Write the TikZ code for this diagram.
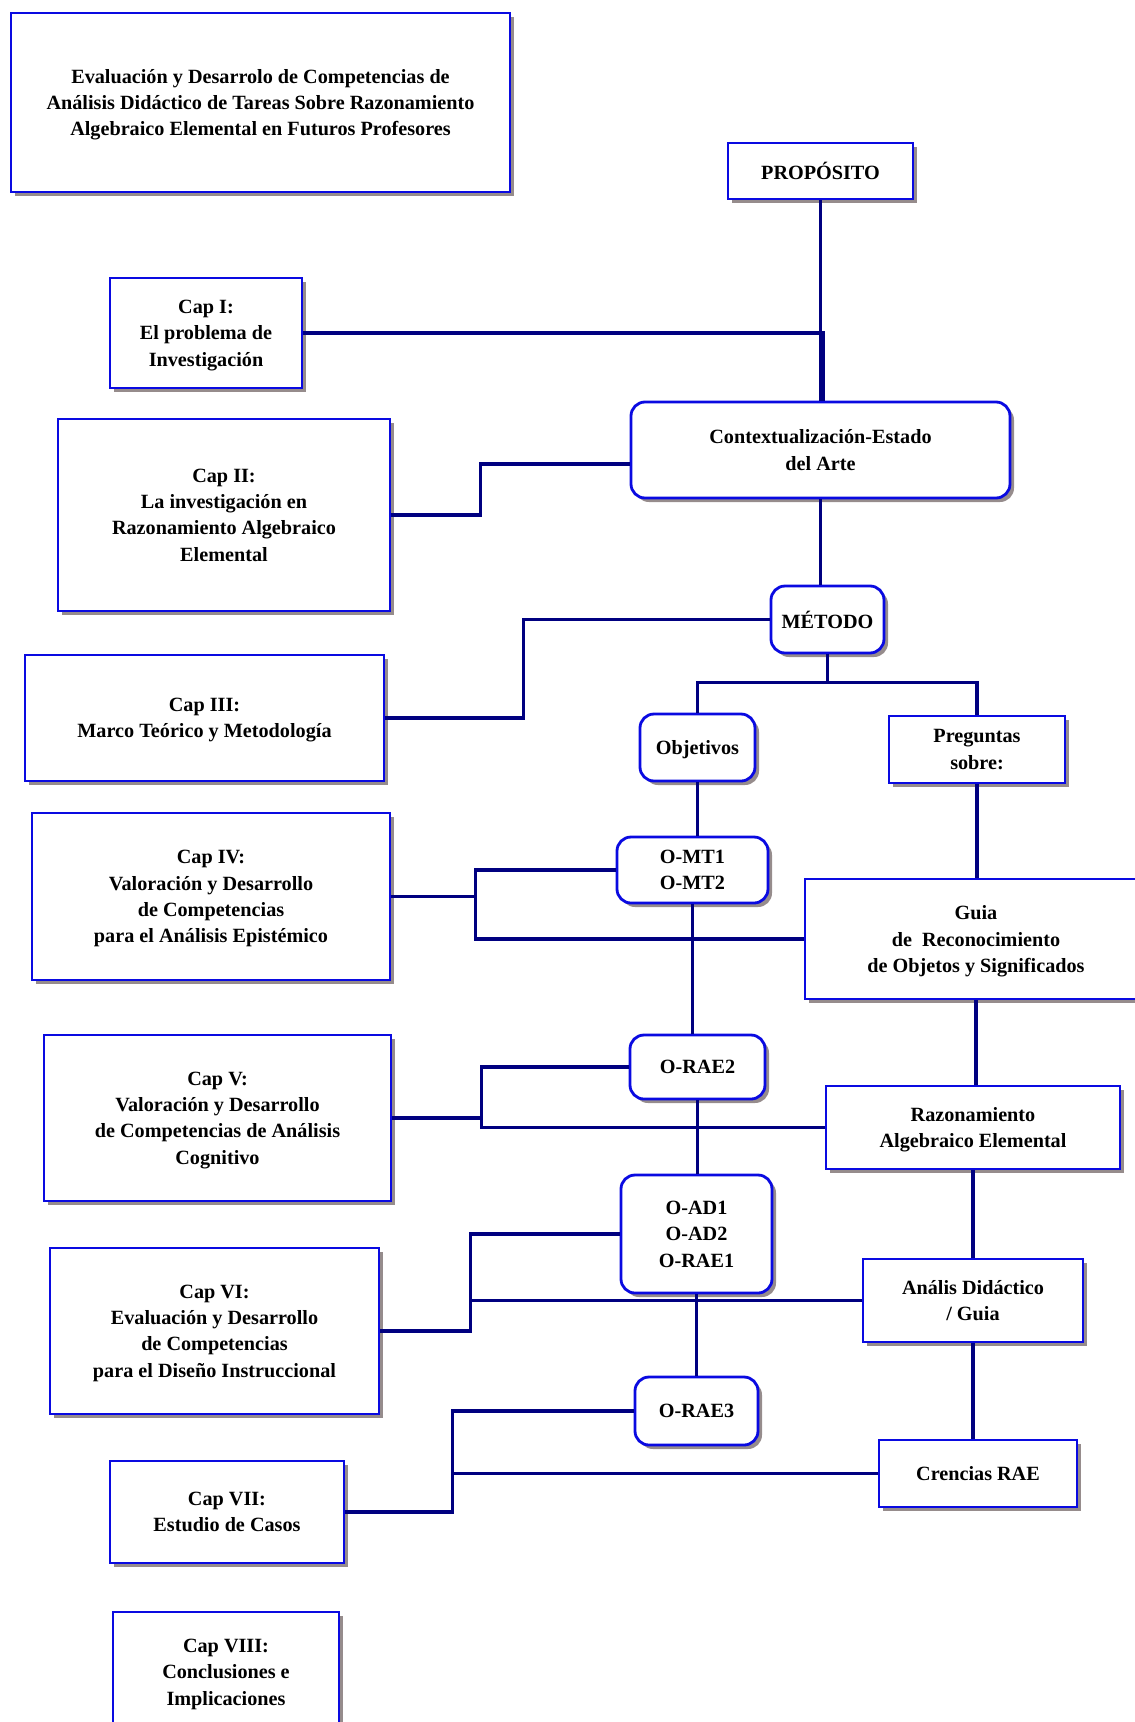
\documentclass[tikz,border=0pt]{standalone}
\usepackage{fontspec}
\setmainfont{Liberation Serif}
\usetikzlibrary{calc,shadows}
\definecolor{boxblue}{RGB}{10,10,225}
\definecolor{linenavy}{RGB}{0,0,128}
\definecolor{shadowgray}{RGB}{150,140,140}
\newlength\pxu
\setlength\pxu{0.02cm}

\begin{document}
\begin{tikzpicture}[x=0.02cm, y=-0.02cm,
    box/.style={draw=boxblue, line width=1.6pt, fill=white, align=center, inner sep=0pt,
        font=\fontsize{11.5}{15}\selectfont\bfseries, text depth=-2pt,
        drop shadow={shadow xshift=4\pxu, shadow yshift=-4\pxu, fill=shadowgray, opacity=1}},
    rbox/.style={box, rounded corners=14\pxu},
    sz/.style 2 args={minimum width=#1\pxu, minimum height=#2\pxu},
    link/.style={draw=linenavy, line width=2pt}]
    \useasboundingbox (0,0) rectangle (1134,1722);

    \node [box, sz={499}{179}] (title) at (260.5,102.5) {Evaluación y Desarrolo de Competencias de\\Análisis Didáctico de Tareas Sobre Razonamiento\\Algebraico Elemental en Futuros Profesores};
    \node [box, sz={185}{56}, text depth=0pt] (prop) at (820.5,171) {PROPÓSITO};
    \node [box, sz={192}{110}] (cap1) at (206,333) {Cap I:\\El problema de\\Investigación};
    \node [rbox, sz={379}{96}] (ctx) at (820.5,450) {Contextualización-Estado\\del Arte};
    \node [box, sz={332}{192}] (cap2) at (224,515) {Cap II:\\La investigación en\\Razonamiento Algebraico\\Elemental};
    \node [rbox, sz={113}{67}] (met) at (827.5,619.5) {MÉTODO};
    \node [box, sz={359}{126}] (cap3) at (204.5,718) {Cap III:\\Marco Teórico y Metodología};
    \node [rbox, sz={115}{67}] (obj) at (697.5,747.5) {Objetivos};
    \node [box, sz={176}{67}] (preg) at (977,749.5) {Preguntas\\sobre:};
    \node [rbox, sz={151}{66}] (omt) at (692.5,870) {O-MT1\\O-MT2};
    \node [box, sz={358}{167}] (cap4) at (211,896.5) {Cap IV:\\Valoración y Desarrollo\\de Competencias\\para el Análisis Epistémico};
    \node [box, sz={342}{120}] (guia) at (976,939) {Guia\\de~~Reconocimiento\\de Objetos y Significados};
    \node [rbox, sz={135}{64}] (orae2) at (697.5,1067) {O-RAE2};
    \node [box, sz={347}{166}] (cap5) at (217.5,1118) {Cap V:\\Valoración y Desarrollo\\de Competencias de Análisis\\Cognitivo};
    \node [box, sz={294}{83}] (razo) at (973,1127.5) {Razonamiento\\Algebraico Elemental};
    \node [rbox, sz={151}{118}] (oad) at (696.5,1234) {O-AD1\\O-AD2\\O-RAE1};
    \node [box, sz={329}{166}] (cap6) at (214.5,1331) {Cap VI:\\Evaluación y Desarrollo\\de Competencias\\para el Diseño Instruccional};
    \node [box, sz={220}{83}] (anal) at (973,1300.5) {Anális Didáctico\\/ Guia};
    \node [rbox, sz={123}{68}] (orae3) at (696.5,1411) {O-RAE3};
    \node [box, sz={198}{67}] (cren) at (978,1473.5) {Crencias RAE};
    \node [box, sz={234}{102}] (cap7) at (227,1512) {Cap VII:\\Estudio de Casos};
    \node [box, sz={226}{120}] (cap8) at (226,1672) {Cap VIII:\\Conclusiones e\\Implicaciones};

    \draw [link] (prop.south) -- (prop.south |- ctx.north);
    \draw [link] (cap1.east) -| ($(ctx.north)+(3,0)$);
    \draw [link] (cap2.east) -- ++(89,0) |- ($(ctx.west)+(0,14)$);
    \draw [link] (ctx.south) -- (ctx.south |- met.north);
    \draw [link] (cap3.east) -- ++(138,0) |- (met.west);
    \draw [link] (met.south) -- ++(0,28) coordinate (msplit);
    \draw [link] (obj.north) |- (msplit) -| (preg.north);
    \draw [link] (obj.south) -- (obj.south |- omt.north);
    \draw [link] (cap4.east) -- ++(84,0) coordinate (b4);
    \draw [link] (omt.west) -| (b4) |- (guia.west);
    \draw [link] (preg.south) -- (preg.south |- guia.north);
    \draw [link] (omt.south) -- (omt.south |- orae2.north);
    \draw [link] (cap5.east) -- ++(89,0) coordinate (b5);
    \draw [link] (orae2.west) -| (b5) |- (razo.west);
    \draw [link] (guia.south) -- (guia.south |- razo.north);
    \draw [link] (orae2.south) -- (orae2.south |- oad.north);
    \draw [link] (cap6.east) -- ++(90,0) coordinate (b6) |- (oad.west);
    \draw [link] (b6 |- anal.west) -- (anal.west);
    \draw [link] (razo.south) -- (razo.south |- anal.north);
    \draw [link] (oad.south) -- (oad.south |- orae3.north);
    \draw [link] (cap7.east) -- ++(107,0) coordinate (b7) |- (orae3.west);
    \draw [link] (b7 |- cren.west) -- (cren.west);
    \draw [link] (anal.south) -- (anal.south |- cren.north);
\end{tikzpicture}
\end{document}
